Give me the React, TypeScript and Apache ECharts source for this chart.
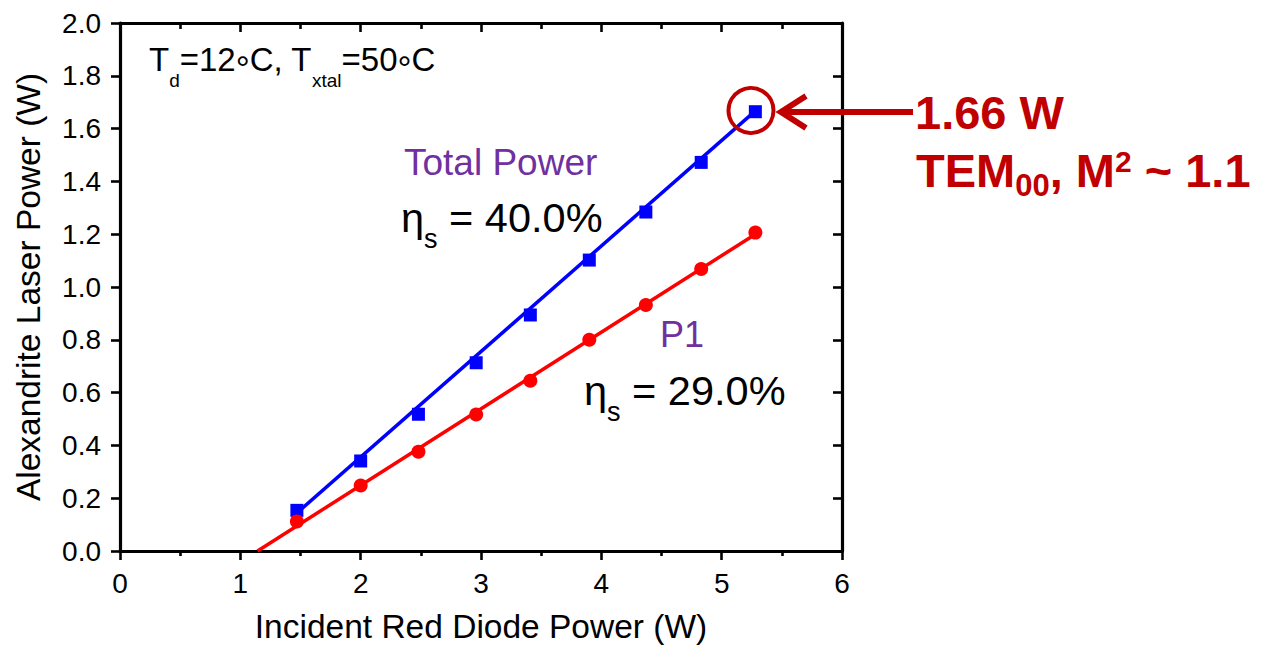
import React, { useEffect, useRef } from "react";
import * as echarts from "echarts";

const FF = "'Liberation Sans', Arial, Helvetica, sans-serif";

// Incident red diode power (W)
const diodePower = [1.47, 2.0, 2.48, 2.96, 3.41, 3.9, 4.37, 4.83, 5.28];
// Total alexandrite laser power (W)
const totalPower = [0.154, 0.341, 0.518, 0.713, 0.894, 1.102, 1.284, 1.472, 1.664];
// P1 laser power (W)
const p1Power = [0.112, 0.248, 0.376, 0.517, 0.645, 0.8, 0.932, 1.068, 1.206];
// Linear fits (slope efficiency 40.0% and 29.0%)
const totalFitX = [1.46, 5.28];
const totalFitY = [0.14, 1.667];
const p1FitX = [1.143, 5.28];
const p1FitY = [0, 1.2];

const xTicks = { min: 0, max: 6, interval: 1 };
const yTicks = { min: 0, max: 2, interval: 0.2 };

const BLUE = "#0000ff";
const RED = "#ff0000";
const PURPLE = "#7030a0";
const DARKRED = "#c00000";

function zip(xs: number[], ys: number[]) {
  return xs.map((x, i) => [x, ys[i]]);
}

export default function App() {
  const ref = useRef<HTMLDivElement>(null);
  useEffect(() => {
    if (!ref.current) return;
    const chart = echarts.init(ref.current, null, { renderer: "svg" });
    const axisLine = () => ({ show: true, onZero: false, lineStyle: { color: "#000", width: 3.2 } });
    const tickStyle = () => ({ color: "#000", width: 2.6 });
    const option: any = {
      animation: false,
      backgroundColor: "#fff",
      textStyle: { fontFamily: FF },
      grid: { left: 120, right: 419, top: 23, bottom: 95, containLabel: false },
      xAxis: [
        {
          type: "value",
          position: "bottom",
          ...xTicks,
          axisLine: axisLine(),
          axisTick: { show: true, inside: false, length: 9, lineStyle: tickStyle() },
          minorTick: { show: true, splitNumber: 2, length: 5, lineStyle: tickStyle() },
          splitLine: { show: false },
          minorSplitLine: { show: false },
          axisLabel: { fontSize: 28, color: "#000", margin: 18, fontFamily: FF },
          name: "Incident Red Diode Power (W)",
          nameLocation: "middle",
          nameGap: 58,
          nameTextStyle: { fontSize: 33.5, color: "#000", fontFamily: FF },
        },
        {
          type: "value",
          position: "top",
          ...xTicks,
          axisLine: axisLine(),
          axisTick: { show: true, inside: true, length: 9, lineStyle: tickStyle() },
          minorTick: { show: true, splitNumber: 2, length: 6, lineStyle: tickStyle() },
          splitLine: { show: false },
          axisLabel: { show: false },
        },
      ],
      yAxis: [
        {
          type: "value",
          position: "left",
          ...yTicks,
          axisLine: axisLine(),
          axisTick: { show: true, inside: false, length: 9, lineStyle: tickStyle() },
          splitLine: { show: false },
          axisLabel: {
            fontSize: 28,
            color: "#000",
            margin: 19,
            fontFamily: FF,
            formatter: (v: number) => v.toFixed(1),
          },
          name: "Alexandrite Laser Power (W)",
          nameLocation: "middle",
          nameGap: 75,
          nameTextStyle: { fontSize: 33.5, color: "#000", fontFamily: FF },
        },
        {
          type: "value",
          position: "right",
          ...yTicks,
          axisLine: axisLine(),
          axisTick: { show: true, inside: true, length: 9, lineStyle: tickStyle() },
          splitLine: { show: false },
          axisLabel: { show: false },
        },
      ],
      series: [
        {
          type: "line",
          data: zip(totalFitX, totalFitY),
          symbol: "none",
          lineStyle: { color: BLUE, width: 3.5 },
          z: 2,
        },
        {
          type: "scatter",
          data: zip(diodePower, totalPower),
          symbol: "rect",
          symbolSize: 13,
          itemStyle: { color: BLUE, opacity: 1 },
          z: 3,
        },
        {
          type: "line",
          data: zip(p1FitX, p1FitY),
          symbol: "none",
          lineStyle: { color: RED, width: 3.5 },
          z: 4,
        },
        {
          type: "scatter",
          data: zip(diodePower, p1Power),
          symbol: "circle",
          symbolSize: 14,
          itemStyle: { color: RED, opacity: 1 },
          z: 5,
        },
      ],
      graphic: [
        {
          type: "text",
          x: 149,
          y: 59.5,
          z: 10,
          style: {
            text: "{m|T}{s|d}{m|=12}{g|°}{m|C, T}{s|xtal}{m|=50}{g|°}{m|C}",
            align: "left",
            verticalAlign: "middle",
            rich: {
              m: { fontSize: 33, fontFamily: FF, fill: "#000", color: "#000" },
              s: { fontSize: 19, fontFamily: FF, fill: "#000", color: "#000", padding: [41, 0, 0, 0] },
              g: { fontSize: 35, fontFamily: FF, fill: "#000", color: "#000", padding: [17, 0, 0, 0] },
            },
          },
        },
        {
          type: "text",
          x: 404,
          y: 162.2,
          z: 10,
          style: {
            text: "Total Power",
            fontSize: 37,
            fontFamily: FF,
            fill: PURPLE,
            align: "left",
            verticalAlign: "middle",
          },
        },
        {
          type: "text",
          x: 401,
          y: 217.3,
          z: 10,
          style: {
            text: "{m|η}{s|s}{m| = 40.0%}",
            align: "left",
            verticalAlign: "middle",
            rich: {
              m: { fontSize: 41.5, fontFamily: FF, fill: "#000", color: "#000" },
              s: { fontSize: 27, fontFamily: FF, fill: "#000", color: "#000", padding: [43, 0, 0, 0] },
            },
          },
        },
        {
          type: "text",
          x: 660,
          y: 334.2,
          z: 10,
          style: {
            text: "P1",
            fontSize: 36,
            fontFamily: FF,
            fill: PURPLE,
            align: "left",
            verticalAlign: "middle",
          },
        },
        {
          type: "text",
          x: 584,
          y: 390.6,
          z: 10,
          style: {
            text: "{m|η}{s|s}{m| = 29.0%}",
            align: "left",
            verticalAlign: "middle",
            rich: {
              m: { fontSize: 41.5, fontFamily: FF, fill: "#000", color: "#000" },
              s: { fontSize: 27, fontFamily: FF, fill: "#000", color: "#000", padding: [43, 0, 0, 0] },
            },
          },
        },
        {
          type: "circle",
          z: 10,
          shape: { cx: 751, cy: 110.5, r: 22.5 },
          style: { fill: "none", stroke: DARKRED, lineWidth: 4 },
        },
        {
          type: "line",
          z: 10,
          shape: { x1: 913, y1: 112, x2: 784, y2: 112 },
          style: { stroke: DARKRED, lineWidth: 6 },
        },
        {
          type: "polyline",
          z: 10,
          shape: { points: [[806, 96], [781, 112], [806, 128]] },
          style: { stroke: DARKRED, lineWidth: 6, fill: "none", lineJoin: "miter" },
        },
        {
          type: "text",
          x: 915,
          y: 112,
          z: 10,
          style: {
            text: "1.66 W",
            fontSize: 47,
            fontWeight: "bold",
            fontFamily: FF,
            fill: DARKRED,
            align: "left",
            verticalAlign: "middle",
          },
        },
        {
          type: "text",
          x: 916,
          y: 170.4,
          z: 10,
          style: {
            text: "{m|TEM}{sub|00}{m|, M}{sup|2}{m| ~ 1.1}",
            align: "left",
            verticalAlign: "middle",
            rich: {
              m: { fontSize: 47, fontWeight: "bold", fontFamily: FF, fill: DARKRED, color: DARKRED },
              sub: {
                fontSize: 31,
                fontWeight: "bold",
                fontFamily: FF,
                fill: DARKRED,
                color: DARKRED,
                padding: [31, 0, 0, 0],
              },
              sup: {
                fontSize: 30,
                fontWeight: "bold",
                fontFamily: FF,
                fill: DARKRED,
                color: DARKRED,
                padding: [0, 0, 18, 0],
              },
            },
          },
        },
      ],
    };
    chart.setOption(option);
    return () => chart.dispose();
  }, []);
  return (
    <div
      ref={ref}
      style={{ position: "fixed", left: 0, top: 0, width: 1261, height: 648, background: "#fff" }}
    />
  );
}
